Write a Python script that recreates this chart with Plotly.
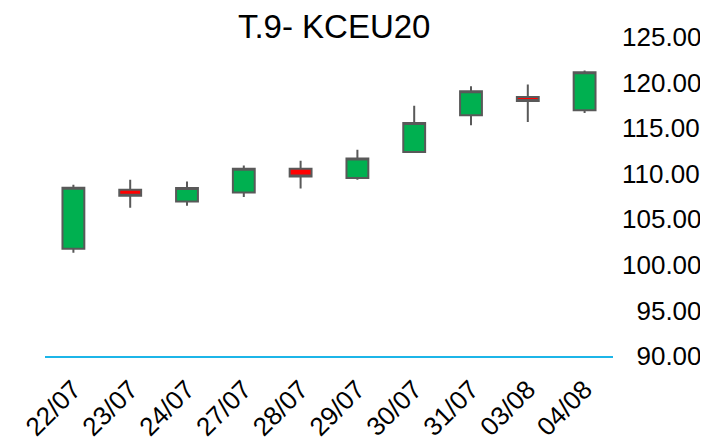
import plotly.graph_objects as go

dates = ["22/07", "23/07", "24/07", "27/07", "28/07", "29/07", "30/07", "31/07", "03/08", "04/08"]
open_ = [101.76, 108.24, 106.96, 107.95, 110.55, 109.53, 112.38, 116.41, 118.43, 116.96]
high = [108.79, 109.34, 109.15, 110.91, 111.43, 112.64, 117.47, 119.59, 119.78, 121.32]
low = [101.32, 106.26, 106.48, 107.44, 108.38, 109.34, 112.26, 115.31, 115.68, 116.67]
close = [108.46, 107.58, 108.42, 110.55, 109.70, 111.68, 115.57, 119.04, 117.98, 121.13]

y_ticks = [90, 95, 100, 105, 110, 115, 120, 125]
y_labels = ["\u2007" * (6 - len(f"{v:.2f}")) + f"{v:.2f}" for v in y_ticks]

FONT = "Liberation Sans, Arial, sans-serif"

fig = go.Figure(go.Candlestick(
    x=dates, open=open_, high=high, low=low, close=close,
    increasing=dict(fillcolor="#00B050", line=dict(color="#595959", width=2)),
    decreasing=dict(fillcolor="#FF0000", line=dict(color="#595959", width=2)),
    whiskerwidth=0,
    showlegend=False,
))

# page body has an 8px default margin, so the figure is sized to fit the window
fig.update_layout(
    width=700, height=434,
    paper_bgcolor="white", plot_bgcolor="white",
    margin=dict(l=37, r=95, t=29, b=86, autoexpand=False),
    title=dict(text="T.9- KCEU20", x=0.466, xanchor="center", y=0.958, yanchor="middle",
               font=dict(family=FONT, size=33, color="black")),
    boxgap=0.45,
    font=dict(family=FONT, color="black"),
    xaxis=dict(type="category", rangeslider=dict(visible=False), range=[-0.5, 9.5],
               automargin=False,
               showline=True, linecolor="#1CB5E8", linewidth=2, showgrid=False, zeroline=False,
               ticks="", tickangle=-45, ticklabelstandoff=6,
               tickfont=dict(size=26, family=FONT, color="black")),
    yaxis=dict(side="right", range=[90, 125], tickvals=y_ticks, ticktext=y_labels,
               automargin=False,
               showgrid=False, zeroline=False, showline=False, ticks="",
               ticklabelstandoff=8, tickfont=dict(size=26, family=FONT, color="black")),
)

fig.write_html("out.html")
